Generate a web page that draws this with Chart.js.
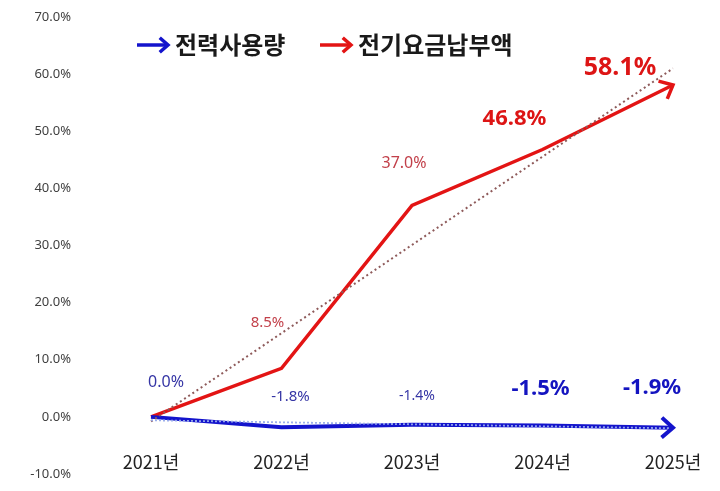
<!DOCTYPE html>
<html>
<head>
<meta charset="utf-8">
<script src="https://cdn.jsdelivr.net/npm/chart.js@4.4.1/dist/chart.umd.min.js"></script>
<style>
html,body{margin:0;padding:0;background:#fff;}
#wrap{width:720px;height:491px;position:relative;}
</style>
</head>
<body>
<div id="wrap"><canvas id="c" width="720" height="491"></canvas></div>
<script>
// ---- data ----
const years = ['2021년', '2022년', '2023년', '2024년', '2025년'];
const powerUsage = [0.0, -1.8, -1.4, -1.5, -1.9];      // 전력사용량 (%)
const billAmount = [0.0, 8.5, 37.0, 46.8, 58.1];       // 전기요금납부액 (%)
const billTrend = [-0.8, null, null, null, 61.0];      // trend line end points
const powerTrend = [-0.6, null, null, null, -2.0];
const seriesNames = ['전력사용량', '전기요금납부액'];

// ---- label styles (per point) ----
const powerLabelStyle = [
  {dx: 15, dy: -34, size: 16, bold: false, color: '#3535a5'},
  {dx: 9, dy: -30, size: 15, bold: false, color: '#3535a5'},
  {dx: 5, dy: -29, size: 14, bold: false, color: '#3535a5'},
  {dx: -2, dy: -37, size: 22, bold: true, color: '#1414c0'},
  {dx: -21, dy: -40, size: 22, bold: true, color: '#1414c0'}
];
const billLabelStyle = [
  null,
  {dx: -14, dy: -46, size: 15, bold: false, color: '#c2404a'},
  {dx: -8, dy: -42, size: 16, bold: false, color: '#c2404a'},
  {dx: -28, dy: -31, size: 22, bold: true, color: '#dd1515'},
  {dx: -53, dy: -17, size: 25, bold: true, color: '#dd1515'}
];

const FONT = "'Noto Sans', 'Noto Sans CJK KR', sans-serif";
const KFONT = "'Noto Sans CJK KR', 'Noto Sans', sans-serif";
const fmt = v => v.toFixed(1) + '%';

function drawHead(ctx, x1, y1, x2, y2, color, width, len) {
  const ang = Math.atan2(y2 - y1, x2 - x1);
  const spread = 0.72;
  ctx.save();
  ctx.strokeStyle = color;
  ctx.lineWidth = width;
  ctx.lineJoin = 'miter';
  ctx.lineCap = 'butt';
  ctx.setLineDash([]);
  ctx.beginPath();
  ctx.moveTo(x2 - len * Math.cos(ang - spread), y2 - len * Math.sin(ang - spread));
  ctx.lineTo(x2, y2);
  ctx.lineTo(x2 - len * Math.cos(ang + spread), y2 - len * Math.sin(ang + spread));
  ctx.stroke();
  ctx.restore();
}

const arrowPlugin = {
  id: 'arrowHeads',
  afterDatasetsDraw(chart) {
    const ctx = chart.ctx;
    [0, 1].forEach(i => {
      const pts = chart.getDatasetMeta(i).data;
      const a = pts[pts.length - 2], b = pts[pts.length - 1];
      const ds = chart.data.datasets[i];
      drawHead(ctx, a.x, a.y, b.x, b.y, ds.borderColor, ds.borderWidth, 15);
    });
  }
};

const labelPlugin = {
  id: 'pointLabels',
  afterDatasetsDraw(chart) {
    const ctx = chart.ctx;
    const styles = [powerLabelStyle, billLabelStyle];
    [0, 1].forEach(i => {
      const pts = chart.getDatasetMeta(i).data;
      const vals = chart.data.datasets[i].data;
      pts.forEach((p, j) => {
        const st = styles[i][j];
        if (!st) return;
        ctx.save();
        ctx.font = (st.bold ? 'bold ' : '') + st.size + 'px ' + FONT;
        ctx.fillStyle = st.color;
        ctx.textAlign = 'center';
        ctx.textBaseline = 'middle';
        ctx.fillText(fmt(vals[j]), p.x + st.dx, p.y + st.dy);
        ctx.restore();
      });
    });
  }
};

const legendPlugin = {
  id: 'arrowLegend',
  afterDraw(chart) {
    const ctx = chart.ctx;
    const items = [
      {x: 137, color: chart.data.datasets[0].borderColor, text: chart.data.datasets[0].label},
      {x: 320, color: chart.data.datasets[1].borderColor, text: chart.data.datasets[1].label}
    ];
    const y = 45;
    items.forEach(it => {
      ctx.save();
      ctx.strokeStyle = it.color;
      ctx.lineWidth = 3.5;
      ctx.beginPath();
      ctx.moveTo(it.x, y);
      ctx.lineTo(it.x + 30, y);
      ctx.stroke();
      ctx.restore();
      drawHead(ctx, it.x, y, it.x + 31, y, it.color, 3.5, 11);
      ctx.save();
      ctx.font = 'bold 24px ' + KFONT;
      ctx.fillStyle = '#1a1a1a';
      ctx.textAlign = 'left';
      ctx.textBaseline = 'middle';
      ctx.fillText(it.text, it.x + 38, y);
      ctx.restore();
    });
  }
};

new Chart(document.getElementById('c'), {
  type: 'line',
  data: {
    labels: years,
    datasets: [
      {label: seriesNames[0], data: powerUsage, borderColor: '#1414cc', borderWidth: 4, pointRadius: 0, tension: 0, clip: false, order: 2},
      {label: seriesNames[1], data: billAmount, borderColor: '#e31414', borderWidth: 3.5, pointRadius: 0, tension: 0, clip: false, order: 2},
      {label: 'trend1', data: powerTrend, borderColor: 'rgba(150,170,235,0.95)', borderWidth: 1.8, borderDash: [2, 2], pointRadius: 0, spanGaps: true, clip: false, order: 0},
      {label: 'trend2', data: billTrend, borderColor: '#8e5a5a', borderWidth: 2, borderDash: [2, 3], pointRadius: 0, spanGaps: true, clip: false, order: 1}
    ]
  },
  options: {
    responsive: false,
    animation: false,
    layout: {padding: {left: 0, right: 47, top: 17, bottom: 17}},
    plugins: {legend: {display: false}, tooltip: {enabled: false}},
    scales: {
      x: {
        type: 'category',
        offset: false,
        position: {y: -6},
        grid: {display: false, drawTicks: false},
        border: {display: false},
        ticks: {padding: 0, color: '#222', font: {family: KFONT, size: 18}, maxRotation: 0}
      },
      y: {
        min: -10, max: 70,
        grid: {display: false, drawTicks: false},
        border: {display: false},
        afterFit: s => { s.width = 151; s.paddingTop = 8; s.paddingBottom = 8; },
        ticks: {stepSize: 10, padding: 80, color: '#404040', font: {family: FONT, size: 13}, callback: v => fmt(v)}
      }
    }
  },
  plugins: [arrowPlugin, labelPlugin, legendPlugin]
});
</script>
</body>
</html>
